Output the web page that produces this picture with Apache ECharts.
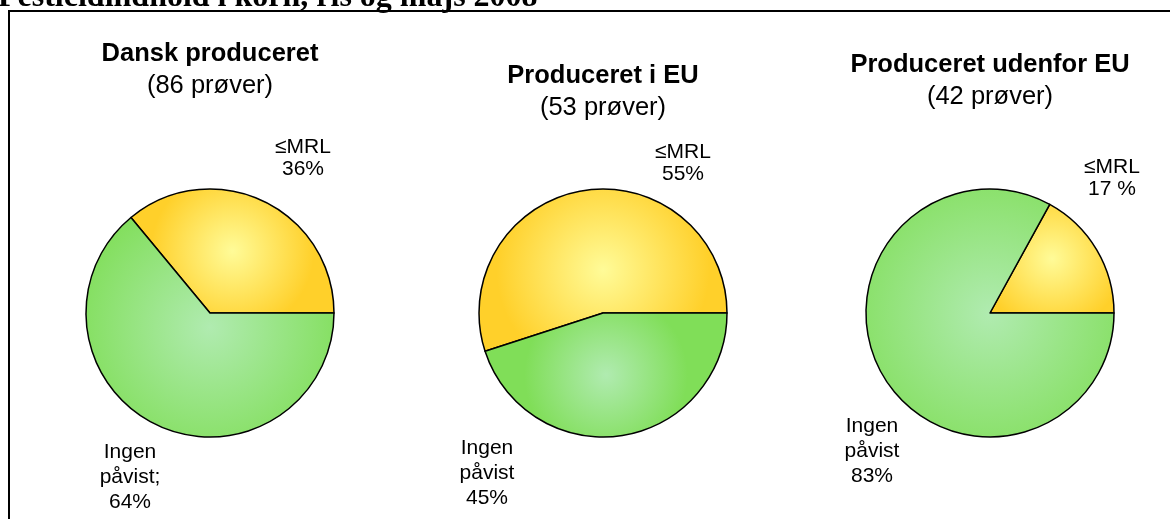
<!DOCTYPE html>
<html>
<head>
<meta charset="utf-8">
<script src="https://cdn.jsdelivr.net/npm/echarts@6/dist/echarts.min.js"></script>
<style>
  html, body { margin: 0; padding: 0; background: #fff; }
  #chart { width: 1170px; height: 519px; }
</style>
</head>
<body>
<div id="chart"></div>
<script>
  // data
  const mainTitle = 'Pesticidindhold i korn, ris og majs 2008';
  const groups = ['Dansk produceret', 'Produceret i EU', 'Produceret udenfor EU'];
  const samples = ['(86 prøver)', '(53 prøver)', '(42 prøver)'];
  const categories = ['≤MRL', 'Ingen påvist'];
  const mrlPct = [36, 55, 17];
  const ingenPct = [64, 45, 83];

  const chart = echarts.init(document.getElementById('chart'));

  // layout per pie (not data)
  const centers = [[210, 313], [603, 313], [990, 313]];
  const titleTops = [41, 63, 52];
  const mrlLabelPos = [[303, 158], [683, 163], [1112, 178]];
  const ingenLabelPos = [[130, 477], [487, 473], [872, 451]];
  const ingenText = ['Ingen\npåvist;', 'Ingen\npåvist', 'Ingen\npåvist'];
  const pctSep = ['', '', ' '];

  const yellow = {
    type: 'radial', x: 0.5, y: 0.5, r: 0.65,
    colorStops: [{ offset: 0, color: '#fffb98' }, { offset: 1, color: '#ffd02a' }],
  };
  const green = {
    type: 'radial', x: 0.5, y: 0.5, r: 0.65,
    colorStops: [{ offset: 0, color: '#b0ebb0' }, { offset: 1, color: '#80de58' }],
  };

  const titles = [{
    text: mainTitle,
    left: -2,
    top: -18,
    padding: 0,
    textStyle: { fontFamily: 'Liberation Serif', fontWeight: 'bold', fontSize: 32, color: '#000' },
  }];
  groups.forEach((g, i) => {
    titles.push({
      text: g,
      subtext: samples[i],
      left: centers[i][0],
      top: titleTops[i],
      textAlign: 'center',
      padding: 0,
      itemGap: 6,
      textStyle: { fontFamily: 'Liberation Sans', fontWeight: 'bold', fontSize: 25.5, color: '#000' },
      subtextStyle: { fontFamily: 'Liberation Sans', fontSize: 25.5, color: '#000' },
    });
  });

  const series = groups.map((g, i) => ({
    type: 'pie',
    center: centers[i],
    radius: 124,
    startAngle: 0,
    clockwise: false,
    silent: true,
    animation: false,
    itemStyle: { borderColor: '#000', borderWidth: 1.5 },
    labelLine: { show: false },
    label: {
      show: true,
      color: '#000',
      fontFamily: 'Liberation Sans',
      fontSize: 21,
      align: 'center',
      overflow: 'none',
      edgeDistance: 0,
      bleedMargin: 0,
    },
    labelLayout: (p) => {
      const pos = p.dataIndex === 0 ? mrlLabelPos[i] : ingenLabelPos[i];
      return { x: pos[0], y: pos[1], align: 'center', verticalAlign: 'middle' };
    },
    data: [
      {
        name: categories[0], value: mrlPct[i],
        itemStyle: { color: yellow },
        label: { formatter: categories[0] + '\n' + mrlPct[i] + pctSep[i] + '%', lineHeight: 22 },
      },
      {
        name: categories[1], value: ingenPct[i],
        itemStyle: { color: green },
        label: { formatter: ingenText[i] + '\n' + ingenPct[i] + '%', lineHeight: 25 },
      },
    ],
  }));

  chart.setOption({
    backgroundColor: '#fff',
    title: titles,
    graphic: [{
      type: 'polyline',
      shape: { points: [[9, 530], [9, 11], [1175, 11]] },
      style: { stroke: '#000', lineWidth: 2, fill: null },
      silent: true,
    }],
    series: series,
  });
</script>
</body>
</html>
